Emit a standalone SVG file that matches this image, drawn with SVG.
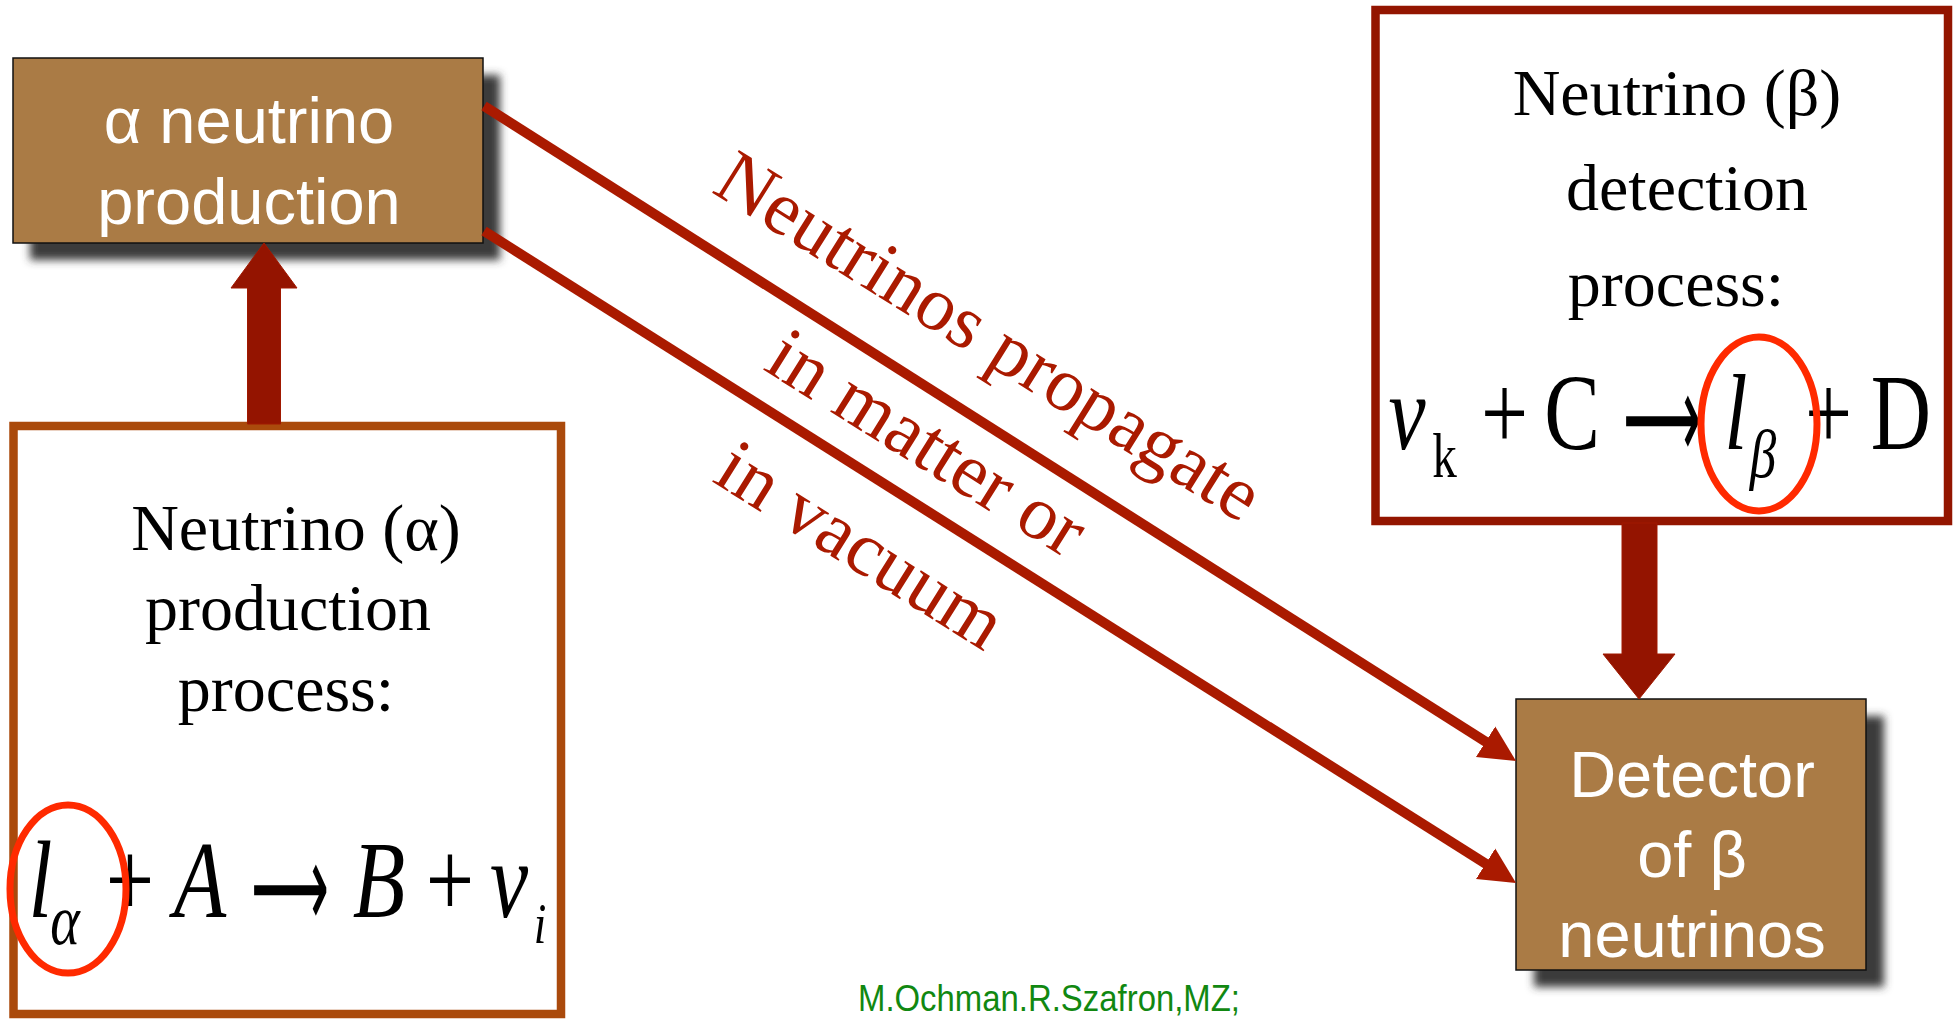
<svg xmlns="http://www.w3.org/2000/svg" width="1955" height="1019" viewBox="0 0 1955 1019">
<defs>
<filter id="blur" x="-20%" y="-20%" width="140%" height="140%"><feGaussianBlur stdDeviation="4"/></filter>
<marker id="ah" viewBox="0 -20 40 40" markerWidth="40" markerHeight="40" refX="2" refY="0" orient="auto" markerUnits="userSpaceOnUse">
<path d="M0,-18 L36,0 L0,18 z" fill="#AA1A00"/>
</marker>
<style>
.shadow{fill:#3a3a3a;filter:url(#blur)}
.brown{fill:#AA7B45;stroke:#111;stroke-width:1.5}
.wt{font-family:"Liberation Sans",Arial,sans-serif;fill:#fff;font-size:65px;text-anchor:middle}
.ser{font-family:"Liberation Serif","Times New Roman",serif;fill:#000;font-size:66px;text-anchor:middle}
.eq{font-family:"Liberation Serif","Times New Roman",serif;fill:#000;text-anchor:middle}
.arr{font-family:"DejaVu Sans",sans-serif;fill:#000;font-size:120px}
.it{font-style:italic}
.ell{fill:none;stroke:#FF2A00;stroke-width:7}
.diag{stroke:#AA1A00;stroke-width:10;fill:none;marker-end:url(#ah)}
.block{fill:#941400;stroke:#A01800;stroke-width:1}
.prop{font-family:"Liberation Serif","Times New Roman",serif;fill:#AA1A00;font-size:77px;text-anchor:middle}
</style>
</defs>
<rect width="1955" height="1019" fill="#fff"/>

<g id="alpha-production">
<rect class="shadow" x="30" y="75" width="470" height="185"/>
<rect class="brown" x="13" y="58" width="470" height="185"/>
<text class="wt" x="249" y="143">α neutrino</text>
<text class="wt" x="249" y="224">production</text>
</g>

<g id="production-process">
<rect x="13.5" y="426" width="547.5" height="588" fill="#fff" stroke="#AA4A0C" stroke-width="8.5"/>
<text class="ser" x="296" y="550">Neutrino (α)</text>
<text class="ser" x="288" y="630">production</text>
<text class="ser" x="286" y="711">process:</text>
<g class="eq" transform="scale(0.78,1)">
<text class="it" x="51.9" y="917" font-size="110">l</text>
<text class="it" x="83.3" y="944" font-size="72">α</text>
<text x="166.7" y="917" font-size="110">+</text>
<text class="it" x="256.4" y="917" font-size="110">A</text>
<text class="it" x="485.9" y="917" font-size="110">B</text>
<text x="576.9" y="917" font-size="110">+</text>
<text class="it" x="652.6" y="917" font-size="110">ν</text>
<text class="it" x="692.3" y="943" font-size="58">i</text>
</g>
<text class="arr" x="251" y="928" textLength="78" lengthAdjust="spacingAndGlyphs">⟶</text>
<ellipse class="ell" cx="68" cy="889" rx="58" ry="84"/>
</g>

<g id="detection-process">
<rect x="1375.5" y="10" width="572.5" height="511" fill="#fff" stroke="#931500" stroke-width="8.5"/>
<text class="ser" x="1677" y="115">Neutrino (β)</text>
<text class="ser" x="1687" y="210">detection</text>
<text class="ser" x="1676" y="306">process:</text>
<g class="eq" transform="scale(0.78,1)">
<text class="it" x="1803.8" y="449" font-size="107">ν</text>
<text x="1851.9" y="477" font-size="63">k</text>
<text x="1928.8" y="449" font-size="107">+</text>
<text x="2015.4" y="449" font-size="107">C</text>
<text class="it" x="2225.6" y="449" font-size="107">l</text>
<text class="it" x="2260.3" y="477" font-size="68">β</text>
<text x="2344.2" y="449" font-size="107">+</text>
<text x="2437.2" y="449" font-size="107">D</text>
</g>
<text class="arr" x="1623" y="459" textLength="78" lengthAdjust="spacingAndGlyphs">⟶</text>
<ellipse class="ell" cx="1759" cy="424" rx="58" ry="87"/>
</g>

<g id="detector">
<rect class="shadow" x="1534" y="716" width="350" height="271"/>
<rect class="brown" x="1516" y="699" width="350" height="271"/>
<text class="wt" x="1692" y="797">Detector</text>
<text class="wt" x="1692" y="877">of β</text>
<text class="wt" x="1692" y="957">neutrinos</text>
</g>

<g id="connectors">
<polygon class="block" points="247.5,424 247.5,288 231,288 264,243 297,288 280.5,288 280.5,424"/>
<polygon class="block" points="1622,523 1622,654 1603,654 1639,699 1675,654 1657,654 1657,523"/>
<line class="diag" x1="484" y1="106" x2="1487.3" y2="742.8"/>
<line class="diag" x1="484" y1="231" x2="1487.3" y2="864.8"/>
</g>

<g id="propagation-label" transform="translate(914,464) rotate(32)">
<text class="prop" x="-4" y="-123">Neutrinos propagate</text>
<text class="prop" x="0" y="0">in matter or</text>
<text class="prop" x="-2" y="122">in vacuum</text>
</g>

<text x="858" y="1011" font-family="Liberation Sans,Arial,sans-serif" font-size="37" fill="#118811" textLength="382" lengthAdjust="spacingAndGlyphs">M.Ochman.R.Szafron,MZ;</text>
</svg>
